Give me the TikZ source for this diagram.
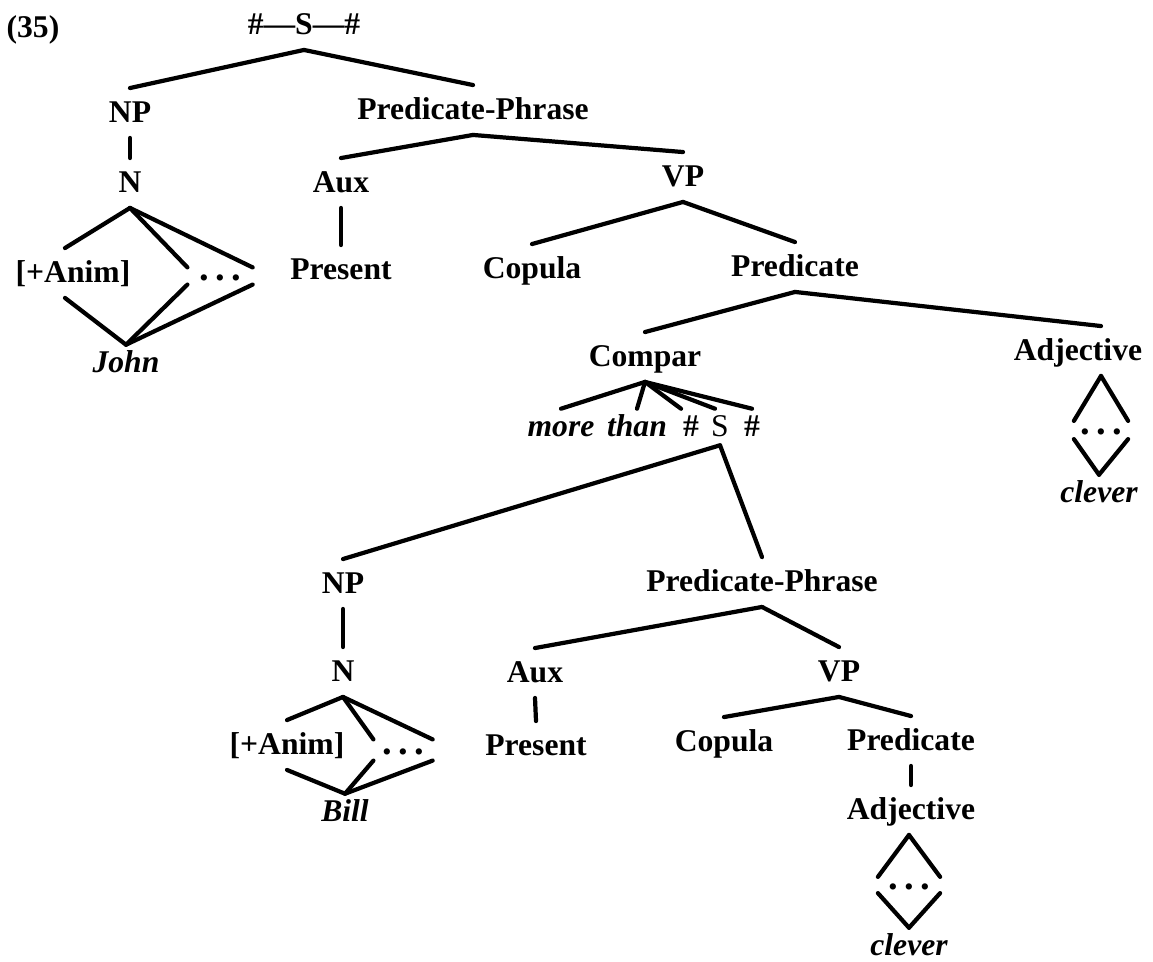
\documentclass[tikz,border=0pt]{standalone}
\usepackage{fontspec}
\setmainfont{Liberation Serif}
\newcommand\treefont{\fontsize{18}{21}\selectfont}
\newcommand\threedots{.\hspace{3.6pt}.\hspace{3.6pt}.}
\tikzset{
  cat/.style={font=\treefont\bfseries, inner xsep=1pt, inner ysep=5.3pt,
    text height=13pt, text depth=2.4pt},
  word/.style={cat, font=\treefont\bfseries\itshape, inner ysep=1.5pt},
  dotsbox/.style={font=\fontsize{22}{24}\selectfont\bfseries, inner sep=0pt,
    text height=5pt, text depth=0pt}
}

\begin{document}
\begin{tikzpicture}[x=0.02cm, y=-0.02cm, line width=2.4pt, line cap=round]
  \useasboundingbox (0,0) rectangle (1153,962);
  \node [cat] (num) at (33,28) {(35)};
  % main clause
  \node [cat] (s1) at (304,25) {\#---S---\#};
  \node [cat] (np1) at (130,113) {NP};
  \node [cat] (n1) at (130,183) {N};
  \node [cat] (anim1) at (73,273) {[+Anim]};
  \node [dotsbox, minimum width=1.22cm, minimum height=0.26cm] (dots1) at (220,276) {\threedots};
  \node [word] (john) at (126,363) {John};
  \node [cat] (pp1) at (473,110) {Predicate-Phrase};
  \node [cat] (aux1) at (341,183) {Aux};
  \node [cat] (pres1) at (341,270) {Present};
  \node [cat] (vp1) at (683,177) {VP};
  \node [cat] (cop1) at (532,269) {Copula};
  \node [cat] (pred1) at (795,267) {Predicate};
  \node [cat] (compar) at (645,357) {Compar};
  \node [cat] (adja) at (1078,351) {Adjective};
  \node [dotsbox, minimum width=1cm, minimum height=0.28cm] (adots) at (1101,430) {\threedots};
  \node [word] (clevera) at (1099,493) {clever};
  \node [word] (more) at (561,427) {more};
  \node [word] (than) at (637,427) {than};
  \node [word, font=\treefont\bfseries] (hsha) at (691,427) {\#};
  \node [word, font=\treefont] (sx) at (720,427) {S};
  \node [word, font=\treefont\bfseries] (hshb) at (752,427) {\#};
  % embedded clause
  \node [cat] (np2) at (343,584) {NP};
  \node [cat] (n2) at (343,672) {N};
  \node [cat] (anim2) at (287,745) {[+Anim]};
  \node [dotsbox, minimum width=1.1cm, minimum height=0.34cm] (dots2) at (403,750) {\threedots};
  \node [word] (bill) at (345,812) {Bill};
  \node [cat] (pp2) at (762,582) {Predicate-Phrase};
  \node [cat] (aux2) at (535,673) {Aux};
  \node [cat] (pres2) at (536,746) {Present};
  \node [cat] (vp2) at (839,672) {VP};
  \node [cat] (cop2) at (724,742) {Copula};
  \node [cat] (pred2) at (911,741) {Predicate};
  \node [cat] (adjb) at (911,810) {Adjective};
  \node [dotsbox, minimum width=1.16cm, minimum height=0.24cm] (bdots) at (909,885) {\threedots};
  \node [word] (cleverb) at (909,946) {clever};

  \path
  (s1.south) edge (np1.north)
  (s1.south) edge (pp1.north)
  (np1.south) edge (n1.north)
  (n1.south) edge ([xshift=-0.16cm]anim1.north)
  (n1.south) edge (dots1.north west)
  (n1.south) edge (dots1.north east)
  ([xshift=-0.16cm]anim1.south) edge (john.north)
  (dots1.south west) edge (john.north)
  (dots1.south east) edge (john.north)
  (pp1.south) edge (aux1.north)
  (pp1.south) edge (vp1.north)
  (aux1.south) edge (pres1.north)
  (vp1.south) edge (cop1.north)
  (vp1.south) edge (pred1.north)
  (pred1.south) edge (compar.north)
  (pred1.south) edge (adja.north -| adots.center)
  (adja.south -| adots.center) edge (adots.north west)
  (adja.south -| adots.center) edge (adots.north east)
  (adots.south west) edge (clevera.north)
  (adots.south east) edge (clevera.north)
  (compar.south) edge (more.north)
  (compar.south) edge (than.north)
  (compar.south) edge ([xshift=-0.2cm]hsha.north)
  (compar.south) edge ([xshift=-0.1cm]sx.north)
  (compar.south) edge (hshb.north)
  ;
  \path
  (sx.south) edge (np2.north)
  (sx.south) edge (pp2.north)
  (np2.south) edge (n2.north)
  (n2.south) edge (anim2.north)
  (n2.south) edge (dots2.north west)
  (n2.south) edge (dots2.north east)
  (anim2.south) edge (bill.north)
  (dots2.south west) edge (bill.north)
  (dots2.south east) edge (bill.north)
  (pp2.south) edge (aux2.north)
  (pp2.south) edge (vp2.north)
  (aux2.south) edge (pres2.north)
  (vp2.south) edge (cop2.north)
  (vp2.south) edge (pred2.north)
  (pred2.south) edge (adjb.north)
  (adjb.south -| bdots.center) edge (bdots.north west)
  (adjb.south -| bdots.center) edge (bdots.north east)
  (bdots.south west) edge (cleverb.north)
  (bdots.south east) edge (cleverb.north)
  ;
\end{tikzpicture}
\end{document}
